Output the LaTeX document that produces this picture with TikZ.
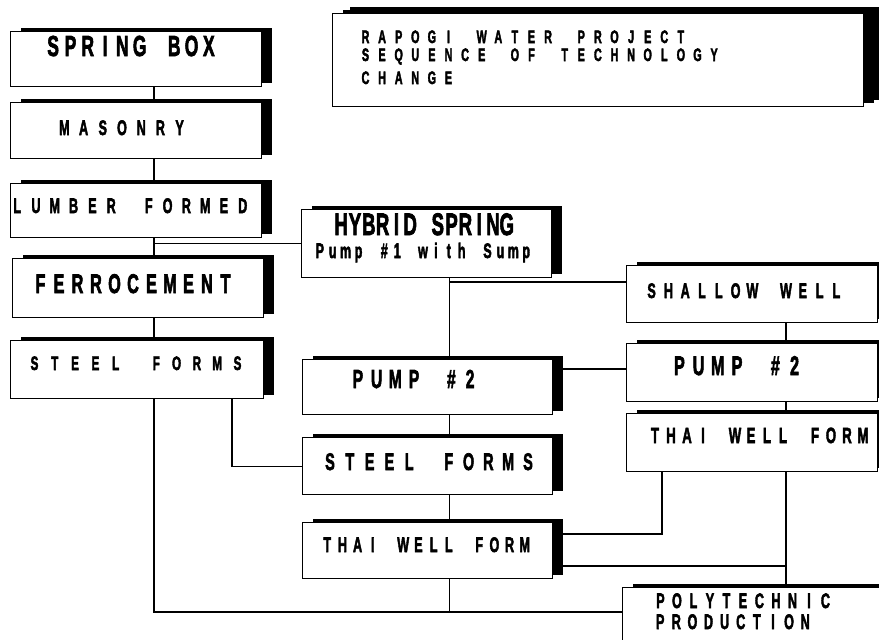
\documentclass[tikz,border=0pt]{standalone}
\usepackage{fontspec}
\usepackage{graphicx}
\usetikzlibrary{shadows}
\newfontfamily\pf[BoldFeatures={FakeBold=3}]{Liberation Sans}
\newcommand\spc[2]{\def\sppitch{#1}\spcloop#2\relax}
\def\spcloop#1{\ifx#1\relax\else\makebox[\sppitch pt][c]{\scalebox{0.6}[1]{#1}}\expandafter\spcloop\fi}
\newcommand\tx[3]{{\fontsize{#1}{#1}\selectfont\pf\bfseries\spc{#2}{#3}}}
\pgfdeclarelayer{background}
\pgfsetlayers{background,main}
\tikzset{
  boxst/.style={draw=black, fill=white, line width=1.3pt, inner sep=0pt, anchor=north west,
    drop shadow={shadow xshift=10pt, shadow yshift=4pt, fill=black, opacity=1}},
  txt/.style={inner sep=0pt, anchor=base},
  txtw/.style={inner sep=0pt, anchor=base west},
  conn/.style={draw=black, line width=1.1pt}
}
\begin{document}
\begin{tikzpicture}[x=1pt,y=-1pt]
\useasboundingbox (0,0) rectangle (879,640);
% boxes
\node[boxst, minimum width=251pt, minimum height=55pt] (springbox) at (10,31) {};
\node[boxst, minimum width=251pt, minimum height=56pt] (masonry) at (10,102) {};
\node[boxst, minimum width=251pt, minimum height=54pt] (lumber) at (10,183) {};
\node[boxst, minimum width=251pt, minimum height=59pt] (ferro) at (12,258) {};
\node[boxst, minimum width=253pt, minimum height=58pt] (steelL) at (10,340) {};
\node[boxst, minimum width=250pt, minimum height=68pt] (hybrid) at (301,209) {};
\node[boxst, minimum width=250pt, minimum height=55pt] (pumpM) at (302,359) {};
\node[boxst, minimum width=250pt, minimum height=57pt] (steelM) at (302,437) {};
\node[boxst, minimum width=250pt, minimum height=56pt] (thaiM) at (302,522) {};
\node[boxst, minimum width=251pt, minimum height=57pt] (shallow) at (626,265) {};
\node[boxst, minimum width=251pt, minimum height=58pt] (pumpR) at (626,343) {};
\node[boxst, minimum width=251pt, minimum height=58pt] (thaiR) at (626,413) {};
\node[boxst, minimum width=300pt, minimum height=80pt] (poly) at (622,587) {};
\node[boxst, minimum width=531pt, minimum height=93pt,
  drop shadow={shadow xshift=17pt, shadow yshift=7pt, fill=black, opacity=1}] (title) at (332,13) {};
% texts
\node[txt] (springboxT) at (131,56) {\tx{29}{17.3}{SPRING~BOX}};
\node[txt] (masonryT) at (122,135) {\tx{21}{19.2}{MASONRY}};
\node[txt] (lumberT) at (130,213) {\tx{21}{18.8}{LUMBER~FORMED}};
\node[txt] (ferroT) at (133,293) {\tx{27}{18.5}{FERROCEMENT}};
\node[txt] (steelLT) at (136,370) {\tx{19.5}{20.3}{STEEL~FORMS}};
\node[txt] (hybridT) at (424,235) {\tx{31}{13.8}{HYBRID~SPRING}};
\node[txt] (hybridT2) at (423,258) {\tx{21}{12.9}{Pump~\#1~with~Sump}};
\node[txt] (pumpMT) at (414,388) {\tx{26}{18.7}{PUMP~\#2}};
\node[txt] (shallowT) at (744,298) {\tx{21}{16.8}{SHALLOW~WELL}};
\node[txt] (pumpRT) at (737,375) {\tx{27}{19.2}{PUMP~\#2}};
\node[txt] (thaiRT) at (759,443) {\tx{22}{16}{THAI~WELL~FORM}};
\node[txt] (steelMT) at (429,470) {\tx{24}{19.8}{STEEL~FORMS}};
\node[txt] (thaiMT) at (426,552) {\tx{21}{15.2}{THAI~WELL~FORM}};
\node[txtw] (polyT1) at (652,608) {\tx{21}{16.5}{POLYTECHNIC}};
\node[txtw] (polyT2) at (652,629) {\tx{21}{16.1}{PRODUCTION}};
\node[txtw] (titleT1) at (357,43) {\tx{18}{16.6}{RAPOGI~WATER~PROJECT}};
\node[txtw] (titleT2) at (357,61) {\tx{18}{16.6}{SEQUENCE~OF~TECHNOLOGY}};
\node[txtw] (titleT3) at (357,84) {\tx{18}{16.6}{CHANGE}};
% helper coordinates
\coordinate (tL) at (154,0);
\coordinate (t2) at (232,0);
\coordinate (mM) at (449.5,0);
\coordinate (tR) at (786,0);
\coordinate (t3) at (662,0);
\coordinate (yS) at (0,282);
\coordinate (yP) at (0,369);
\coordinate (yT1) at (0,534);
\coordinate (yT2) at (0,566);
\coordinate (bot) at (0,612);
\begin{pgfonlayer}{background}
\draw[conn] (springbox.south -| tL) -- (masonry.north -| tL);
\draw[conn] (masonry.south -| tL) -- (lumber.north -| tL);
\draw[conn] (lumber.south -| tL) -- (ferro.north -| tL);
\draw[conn] (tL |- hybrid.west) -- (hybrid.west);
\draw[conn] (ferro.south -| tL) -- (steelL.north -| tL);
\draw[conn] (steelL.south -| tL) -- (tL |- bot) -- (bot -| poly.west);
\draw[conn] (steelL.south -| t2) -- (t2 |- steelM.west) -- (steelM.west);
\draw[conn] (hybrid.south -| mM) -- (pumpM.north -| mM);
\draw[conn] (mM |- yS) -- (shallow.west |- yS);
\draw[conn] (pumpM.east |- yP) -- (pumpR.west |- yP);
\draw[conn] (pumpM.south -| mM) -- (steelM.north -| mM);
\draw[conn] (steelM.south -| mM) -- (thaiM.north -| mM);
\draw[conn] (thaiM.south -| mM) -- (mM |- bot);
\draw[conn] (shallow.south -| tR) -- (pumpR.north -| tR);
\draw[conn] (pumpR.south -| tR) -- (thaiR.north -| tR);
\draw[conn] (thaiR.south -| tR) -- (poly.north -| tR);
\draw[conn] (thaiR.south -| t3) -- (t3 |- yT1) -- (thaiM.east |- yT1);
\draw[conn] (thaiM.east |- yT2) -- (tR |- yT2);
\end{pgfonlayer}
\end{tikzpicture}
\end{document}
